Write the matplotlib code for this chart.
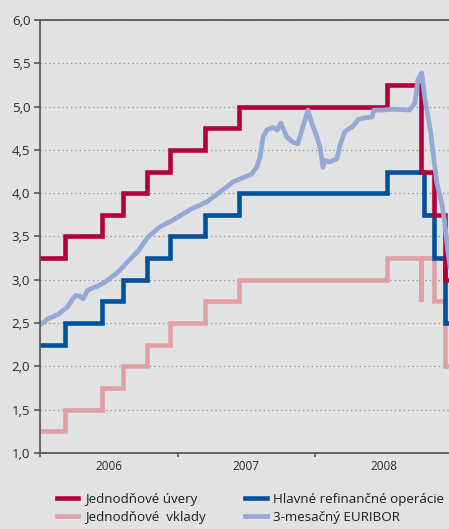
#!/usr/bin/env python3

'''
ECB key rates and 3M EURIBOR, 2006-2008
'''

import pandas as pd
import matplotlib
matplotlib.use("Agg")
import matplotlib.pyplot as plt
import matplotlib.dates as mdates
from matplotlib.ticker import FixedLocator, FuncFormatter

plt.rcParams['font.family'] = ['Open Sans', 'DejaVu Sans']

# rate change dates (step post), last entry = end of series
rate_dates = ['2006-01-01', '2006-03-08', '2006-06-15', '2006-08-09', '2006-10-11',
              '2006-12-13', '2007-03-14', '2007-06-13', '2008-07-09', '2008-10-08',
              '2008-10-09', '2008-10-15', '2008-11-12', '2008-12-10', '2008-12-31']
marginal = [3.25, 3.50, 3.75, 4.00, 4.25, 4.50, 4.75, 5.00, 5.25, 4.75,
            4.25, 4.25, 3.75, 3.00, 3.00]
deposit = [1.25, 1.50, 1.75, 2.00, 2.25, 2.50, 2.75, 3.00, 3.25, 2.75,
           3.25, 3.25, 2.75, 2.00, 2.00]
mro = [2.25, 2.50, 2.75, 3.00, 3.25, 3.50, 3.75, 4.00, 4.25, 4.25,
       4.25, 3.75, 3.25, 2.50, 2.50]

euribor_dates = ['2006-01-02', '2006-01-22', '2006-02-18', '2006-03-16', '2006-03-27',
                 '2006-04-06', '2006-04-17', '2006-04-25', '2006-05-08', '2006-06-04',
                 '2006-06-22', '2006-07-27', '2006-08-22', '2006-09-18', '2006-10-14',
                 '2006-11-15', '2006-12-20', '2007-02-03', '2007-03-20', '2007-04-23',
                 '2007-05-28', '2007-06-29', '2007-07-17', '2007-07-30', '2007-08-08',
                 '2007-08-16', '2007-08-26', '2007-09-11', '2007-09-22', '2007-10-02',
                 '2007-10-18', '2007-11-03', '2007-11-16', '2007-11-30', '2007-12-13',
                 '2007-12-23', '2008-01-06', '2008-01-14', '2008-01-22', '2008-01-27',
                 '2008-02-09', '2008-02-28', '2008-03-07', '2008-03-20', '2008-04-02',
                 '2008-04-10', '2008-04-24', '2008-05-12', '2008-05-31', '2008-06-05',
                 '2008-06-29', '2008-07-25', '2008-09-08', '2008-09-22', '2008-09-30',
                 '2008-10-10', '2008-10-18', '2008-10-26', '2008-11-03', '2008-11-11',
                 '2008-11-19', '2008-12-02', '2008-12-10', '2008-12-18', '2008-12-24']
euribor = [2.48, 2.55, 2.60, 2.69, 2.77, 2.82, 2.81, 2.78, 2.88, 2.93,
           2.97, 3.09, 3.21, 3.33, 3.49, 3.61, 3.69, 3.81, 3.90, 4.01,
           4.13, 4.19, 4.22, 4.30, 4.42, 4.65, 4.73, 4.76, 4.73, 4.81,
           4.65, 4.59, 4.57, 4.77, 4.96, 4.81, 4.65, 4.53, 4.30, 4.38,
           4.36, 4.40, 4.55, 4.71, 4.75, 4.77, 4.85, 4.87, 4.88, 4.96,
           4.96, 4.97, 4.96, 5.04, 5.31, 5.39, 5.10, 4.90, 4.70, 4.40,
           4.12, 3.89, 3.66, 3.34, 3.15]

years = ['2006', '2007', '2008']
year_starts = ['2006-01-01', '2007-01-01', '2008-01-01', '2009-01-01']
yticks = [1.0, 1.5, 2.0, 2.5, 3.0, 3.5, 4.0, 4.5, 5.0, 5.5, 6.0]

bg = '#e1e2e4'
c_red = '#b3003c'
c_pink = '#e0a0a4'
c_blue = '#00519b'
c_lblue = '#94a9d6'

W, H = 449, 529
fig = plt.figure(figsize=(W / 100, H / 100), dpi=100, facecolor=bg)
ax = fig.add_axes([40 / W, 1 - 453 / H, 413 / W, 433 / H], facecolor=bg)

rd = pd.to_datetime(rate_dates)
ed = pd.to_datetime(euribor_dates)
lw = 3.3
ax.plot(rd, deposit, drawstyle='steps-post', color=c_pink, lw=lw, solid_joinstyle='miter',
        label='Jednodňové  vklady')
ax.plot(rd, mro, drawstyle='steps-post', color=c_blue, lw=lw, solid_joinstyle='miter',
        label='Hlavné refinančné operácie')
ax.plot(rd, marginal, drawstyle='steps-post', color=c_red, lw=lw, solid_joinstyle='miter',
        label='Jednodňové úvery')
ax.plot(ed, euribor, color=c_lblue, lw=3.4, solid_joinstyle='round',
        label='3-mesačný EURIBOR')

ax.set_xlim(pd.Timestamp('2006-01-01'), pd.Timestamp('2009-01-01'))
ax.set_ylim(1.0, 6.0)

ax.yaxis.set_major_locator(FixedLocator(yticks))
ax.yaxis.set_major_formatter(FuncFormatter(lambda v, p: f'{v:.1f}'.replace('.', ',')))
ax.grid(axis='y', color='#8c8c8c', lw=0.9, ls=(0, (1, 2.5)))

ax.set_xticks(mdates.date2num(pd.to_datetime(year_starts)), labels=['' for _ in year_starts])
ax.set_xticks(mdates.date2num(pd.to_datetime([y + '-07-02' for y in years])),
              labels=years, minor=True)

ax.tick_params(axis='y', direction='out', length=4, width=1.2, color='#555555',
               labelsize=9.5, labelcolor='#2a2a2a', pad=3)
ax.tick_params(axis='x', which='major', direction='out', length=3, width=1.2, color='#555555')
ax.tick_params(axis='x', which='minor', length=0, labelsize=8.5, labelcolor='#2a2a2a', pad=5)

for s in ['left', 'top', 'bottom']:
    ax.spines[s].set_color('#5a5a5a')
    ax.spines[s].set_linewidth(1.3)
ax.spines['right'].set_visible(False)

handles, labels = ax.get_legend_handles_labels()
order = [2, 0, 1, 3]
fig.legend([handles[i] for i in order], [labels[i] for i in order], ncol=2,
           loc='upper left', bbox_to_anchor=(50 / W, 1 - 486 / H), frameon=False,
           fontsize=9.6, handlelength=1.6, handletextpad=0.5, columnspacing=3.0,
           labelspacing=0.4, borderpad=0, labelcolor='#1e1e1e')

plt.savefig('out.png', dpi=100, facecolor=bg)
plt.close()
